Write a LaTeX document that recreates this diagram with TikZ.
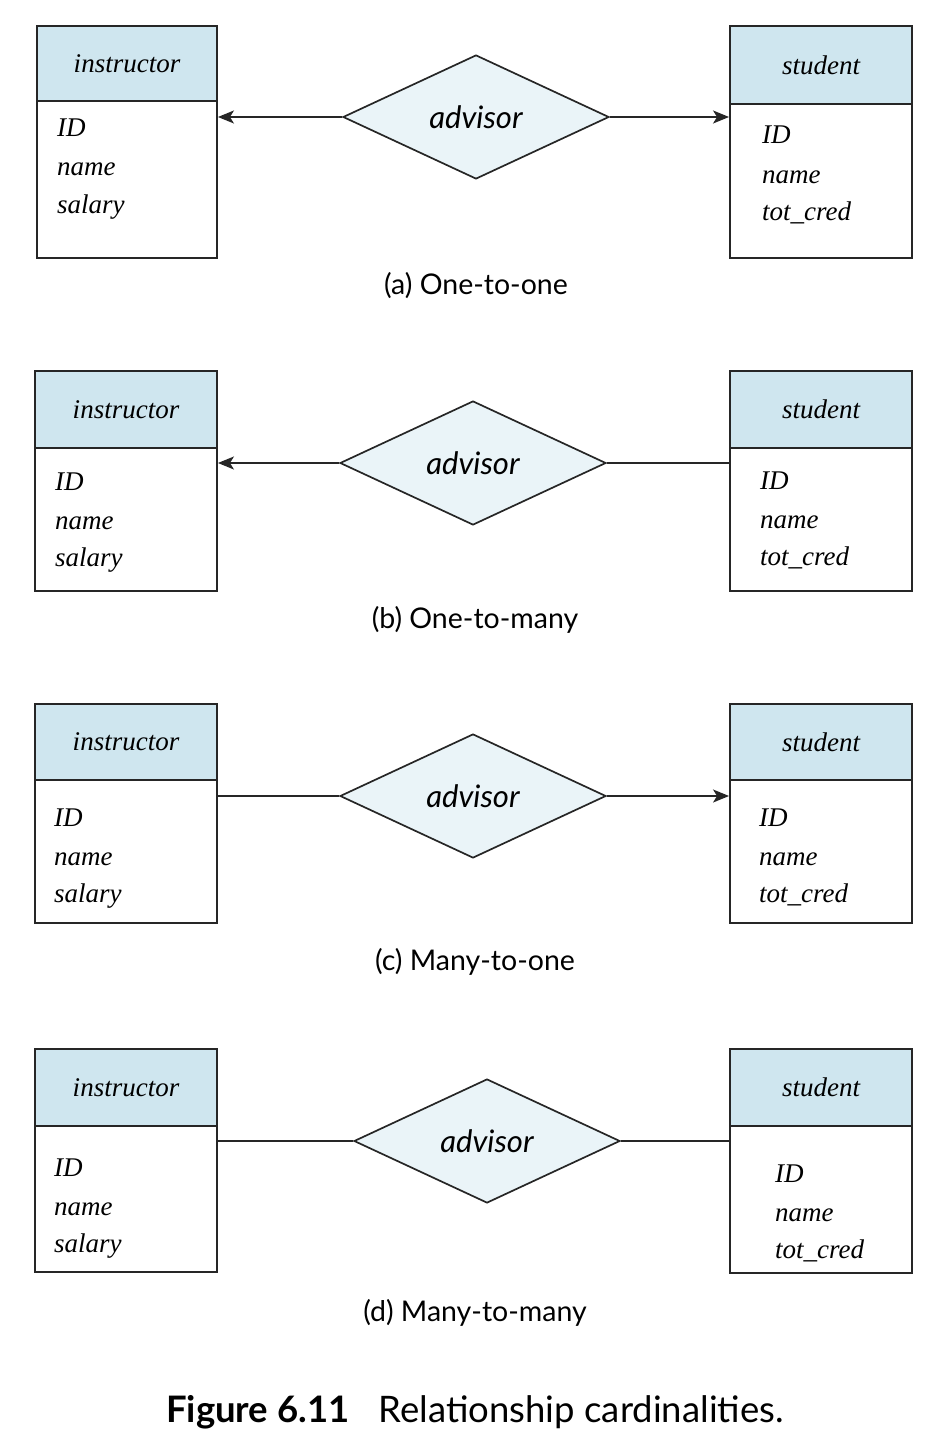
\documentclass[tikz,border=0pt]{standalone}
\usepackage{fontspec}
\setmainfont{Liberation Serif}
\newfontfamily\capfont{Lato}
\usetikzlibrary{arrows.meta,shapes.geometric}
\definecolor{hdrblue}{HTML}{CFE6EF}
\definecolor{diafill}{HTML}{EAF4F8}
\tikzset{
  box/.style={draw=black!85, line width=1.9pt, inner sep=0pt},
  hdr/.style={box, fill=hdrblue, font=\fontsize{27}{32}\selectfont\itshape},
  attr/.style={anchor=base west, inner sep=0pt, font=\fontsize{27}{32}\selectfont\itshape},
  rel/.style={diamond, draw=black!85, line width=1.7pt, fill=diafill, inner sep=0pt,
    minimum width=266pt, minimum height=124pt, font=\capfont\itshape\fontsize{31}{34}\selectfont},
  conn/.style={line width=1.6pt, draw=black!85},
  arr/.style={conn, -{Stealth[length=16pt,width=13pt,inset=4pt]}},
  subcap/.style={font=\capfont\fontsize{28.5}{32}\selectfont},
}
% entity: name, x1, x2, ytop, ymid, ybot, title
\newcommand\entitybox[7]{%
  \node[hdr, minimum width={#3-#2}, minimum height={#5-#4}] (#1h) at ({(#2+#3)/2},{(#4+#5)/2}) {#7};
  \node[box, minimum width={#3-#2}, minimum height={#6-#5}] (#1b) at ({(#2+#3)/2},{(#5+#6)/2}) {};
}
% attributes: name, x, first baseline, three texts
\newcommand\attrlist[6]{%
  \node[attr] (#1x) at (#2,#3) {#4};
  \node[attr] (#1y) at (#2,{#3+39}) {#5};
  \node[attr] (#1z) at (#2,{#3+76}) {#6};
}
\begin{document}
\begin{tikzpicture}[x=1pt,y=-1pt]
\useasboundingbox (0,0) rectangle (952,1450);

% (a)
\entitybox{ia}{37}{217}{26}{101}{258}{instructor}
\entitybox{sa}{730}{912}{26}{104}{258}{student}
\attrlist{iaa}{57}{137}{ID}{name}{salary}
\attrlist{saa}{762}{144}{ID}{name}{tot\_cred}
\node[rel] (ra) at (476,117) {advisor};
\draw[arr] (ra.west) -- (iab.east |- ra.west);
\draw[arr] (ra.east) -- (sab.west |- ra.east);
\node[subcap] (capa) at (476,286) {(a) One-to-one};

% (b)
\entitybox{ib}{35}{217}{371}{448}{591}{instructor}
\entitybox{sb}{730}{912}{371}{448}{591}{student}
\attrlist{iba}{55}{490}{ID}{name}{salary}
\attrlist{sba}{760}{489}{ID}{name}{tot\_cred}
\node[rel] (rb) at (473,463) {advisor};
\draw[arr] (rb.west) -- (ibb.east |- rb.west);
\draw[conn] (rb.east) -- (sbb.west |- rb.east);
\node[subcap] (capb) at (475,620) {(b) One-to-many};

% (c)
\entitybox{ic}{35}{217}{704}{780}{923}{instructor}
\entitybox{sc}{730}{912}{704}{780}{923}{student}
\attrlist{ica}{54}{826}{ID}{name}{salary}
\attrlist{sca}{759}{826}{ID}{name}{tot\_cred}
\node[rel] (rc) at (473,796) {advisor};
\draw[conn] (rc.west) -- (icb.east |- rc.west);
\draw[arr] (rc.east) -- (scb.west |- rc.east);
\node[subcap] (capc) at (475,962) {(c) Many-to-one};

% (d)
\entitybox{id}{35}{217}{1049}{1126}{1272}{instructor}
\entitybox{sd}{730}{912}{1049}{1126}{1273}{student}
\attrlist{ida}{54}{1176}{ID}{name}{salary}
\attrlist{sda}{775}{1182}{ID}{name}{tot\_cred}
\node[rel] (rd) at (487,1141) {advisor};
\draw[conn] (rd.west) -- (idb.east |- rd.west);
\draw[conn] (rd.east) -- (sdb.west |- rd.east);
\node[subcap] (capd) at (475,1313) {(d) Many-to-many};

% figure caption
\node[font=\capfont\fontsize{36.5}{40}\selectfont] (figcap) at (475,1412)
  {\textbf{Figure 6.11}\hspace{0.8em}Relationship cardinalities.};
\end{tikzpicture}
\end{document}
